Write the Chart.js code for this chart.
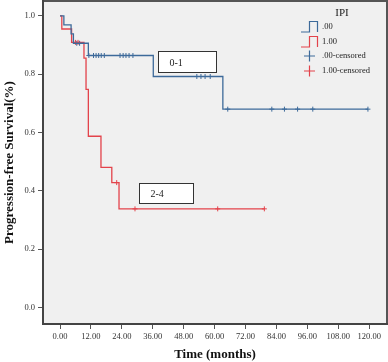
<!DOCTYPE html>
<html>
<head>
<meta charset="utf-8">
<script src="https://cdn.jsdelivr.net/npm/chart.js@4/dist/chart.umd.min.js"></script>
<style>
  html, body { margin: 0; padding: 0; background: #fff; }
  #wrap { width: 388px; height: 362px; position: relative; }
</style>
</head>
<body>
<div id="wrap"><canvas id="km-chart" width="388" height="362"></canvas></div>
<script>
// IPI 0-1 (".00")
const lowTimes = [0, 1.5, 4.3, 5.2, 11, 36.2, 63.2, 119.5];
const lowSurv = [1.0, 0.969, 0.938, 0.906, 0.864, 0.792, 0.68, 0.68];
const lowCensored = [6.5, 7.6, 11.2, 13, 14, 15, 16, 17.2, 23.3, 24.5, 25.6, 26.8, 28.3,
                     53.1, 54.7, 56.3, 58.3, 65.1, 82.2, 87.1, 92.2, 98.1, 119.5];

// IPI 2-4 ("1.00")
const highTimes = [0, 0.7, 4.5, 9.3, 10.1, 11, 15.9, 20.1, 22.9, 79.3];
const highSurv = [1.0, 0.955, 0.909, 0.855, 0.748, 0.587, 0.48, 0.428, 0.338, 0.338];
const highCensored = [6, 7, 22, 29.1, 61.2, 79.3];

const xTicks = [0, 12, 24, 36, 48, 60, 72, 84, 96, 108, 120];
const yTicks = [0, 0.2, 0.4, 0.6, 0.8, 1.0];

const legendTitle = 'IPI';
const legendLabels = ['.00', '1.00', '.00-censored', '1.00-censored'];

const BLUE = '#3d6a9a';
const RED = '#e3434b';
const SERIF = '"Liberation Serif", "DejaVu Serif", serif';

// survival value at time t (step function)
function survAt(times, surv, t) {
    let v = surv[0];
    for (let i = 0; i < times.length; i++) {
        if (times[i] <= t) v = surv[i];
    }
    return v;
}

const toPoints = (xs, ys) => xs.map((x, i) => ({x: x, y: ys[i]}));
const censorPoints = (cs, times, surv) => cs.map(t => ({x: t, y: survAt(times, surv, t)}));

// annotation boxes, in data units
const boxes = [
    {text: '0-1', x0: 38.2, x1: 60.5, y0: 0.878, y1: 0.807},
    {text: '2-4', x0: 30.8, x1: 51.8, y0: 0.4265, y1: 0.358}
];

const plotDecor = {
    id: 'plotDecor',
    beforeDraw(chart) {
        const {ctx, chartArea: a} = chart;
        ctx.save();
        ctx.fillStyle = '#f0f0f0';
        ctx.fillRect(a.left, a.top, a.right - a.left, a.bottom - a.top);
        ctx.strokeStyle = '#555';
        ctx.lineWidth = 2;
        ctx.beginPath();
        ctx.moveTo(a.left, a.top);
        ctx.lineTo(a.right, a.top);
        ctx.lineTo(a.right, a.bottom);
        ctx.stroke();
        ctx.restore();
    },
    afterDraw(chart) {
        const {ctx} = chart;
        const xs = chart.scales.x, ys = chart.scales.y;
        ctx.save();
        // boxes
        boxes.forEach(b => {
            const l = Math.round(xs.getPixelForValue(b.x0)) + 0.5;
            const r = Math.round(xs.getPixelForValue(b.x1)) + 0.5;
            const t = Math.round(ys.getPixelForValue(b.y0)) + 0.5;
            const btm = Math.round(ys.getPixelForValue(b.y1)) + 0.5;
            ctx.fillStyle = '#fff';
            ctx.fillRect(l, t, r - l, btm - t);
            ctx.strokeStyle = '#333';
            ctx.lineWidth = 1;
            ctx.strokeRect(l, t, r - l, btm - t);
            ctx.fillStyle = '#222';
            ctx.font = '10px ' + SERIF;
            ctx.textBaseline = 'middle';
            ctx.textAlign = 'left';
            ctx.fillText(b.text, l + 11, (t + btm) / 2 + 1);
        });

        // legend
        ctx.fillStyle = '#222';
        ctx.font = '11px ' + SERIF;
        ctx.textAlign = 'center';
        ctx.textBaseline = 'middle';
        ctx.fillText(legendTitle, 342, 13);

        const rows = [27, 42, 56, 71];
        const colors = [BLUE, RED, BLUE, RED];
        ctx.font = '8.5px ' + SERIF;
        ctx.textAlign = 'left';
        rows.forEach((y, i) => {
            ctx.strokeStyle = colors[i];
            ctx.lineWidth = 1.2;
            ctx.beginPath();
            if (i < 2) {
                ctx.moveTo(301, y + 5);
                ctx.lineTo(309.5, y + 5);
                ctx.lineTo(309.5, y - 5.5);
                ctx.lineTo(317.5, y - 5.5);
                ctx.lineTo(317.5, y + 5);
            } else {
                ctx.moveTo(304, y);
                ctx.lineTo(315, y);
                ctx.moveTo(309.5, y - 5.5);
                ctx.lineTo(309.5, y + 5.5);
            }
            ctx.stroke();
            ctx.fillStyle = '#222';
            ctx.fillText(legendLabels[i], 322, y);
        });
        ctx.restore();
    }
};

const config = {
    type: 'scatter',
    data: {
        datasets: [
            {
                label: legendLabels[0],
                data: toPoints(lowTimes, lowSurv),
                showLine: true,
                stepped: 'before',
                borderColor: BLUE,
                borderWidth: 1.3,
                pointRadius: 0
            },
            {
                label: legendLabels[1],
                data: toPoints(highTimes, highSurv),
                showLine: true,
                stepped: 'before',
                borderColor: RED,
                borderWidth: 1.3,
                pointRadius: 0
            },
            {
                label: legendLabels[2],
                data: censorPoints(lowCensored, lowTimes, lowSurv),
                pointStyle: 'cross',
                pointRadius: 2.5,
                borderColor: BLUE,
                borderWidth: 1
            },
            {
                label: legendLabels[3],
                data: censorPoints(highCensored, highTimes, highSurv),
                pointStyle: 'cross',
                pointRadius: 2.5,
                borderColor: RED,
                borderWidth: 1
            }
        ]
    },
    options: {
        responsive: false,
        animation: false,
        layout: {autoPadding: false, padding: {top: 1, right: 1, left: 0, bottom: 0}},
        plugins: {
            legend: {display: false},
            tooltip: {enabled: false}
        },
        scales: {
            x: {
                type: 'linear',
                min: -6.6,
                max: 126.9,
                afterBuildTicks: s => { s.ticks = xTicks.map(v => ({value: v})); },
                afterFit: s => { s.height = 38; s.paddingLeft = 0; s.paddingRight = 0; },
                grid: {drawOnChartArea: false, drawTicks: true, tickLength: 5, color: '#555', lineWidth: 1},
                border: {color: '#444', width: 2},
                ticks: {
                    color: '#333',
                    font: {family: SERIF, size: 8.5},
                    padding: 3,
                    maxRotation: 0,
                    callback: v => Number(v).toFixed(2)
                },
                title: {
                    display: true,
                    text: 'Time (months)',
                    color: '#111',
                    font: {family: SERIF, size: 13, weight: 'bold'},
                    padding: {top: 2, bottom: 0}
                }
            },
            y: {
                type: 'linear',
                min: -0.057,
                max: 1.051,
                afterBuildTicks: s => { s.ticks = yTicks.map(v => ({value: v})); },
                afterFit: s => { s.width = 43; s.paddingTop = 0; s.paddingBottom = 0; },
                grid: {drawOnChartArea: false, drawTicks: true, tickLength: 5, color: '#555', lineWidth: 1},
                border: {color: '#444', width: 2},
                ticks: {
                    color: '#333',
                    font: {family: SERIF, size: 8.5},
                    padding: 3,
                    callback: v => Number(v).toFixed(1)
                },
                title: {
                    display: true,
                    text: 'Progression-free Survival(%)',
                    color: '#111',
                    font: {family: SERIF, size: 13, weight: 'bold'},
                    padding: {top: 2, bottom: 0}
                }
            }
        }
    },
    plugins: [plotDecor]
};

const ctx = document.getElementById('km-chart').getContext('2d');
window.kmChart = new Chart(ctx, config);
</script>
</body>
</html>
